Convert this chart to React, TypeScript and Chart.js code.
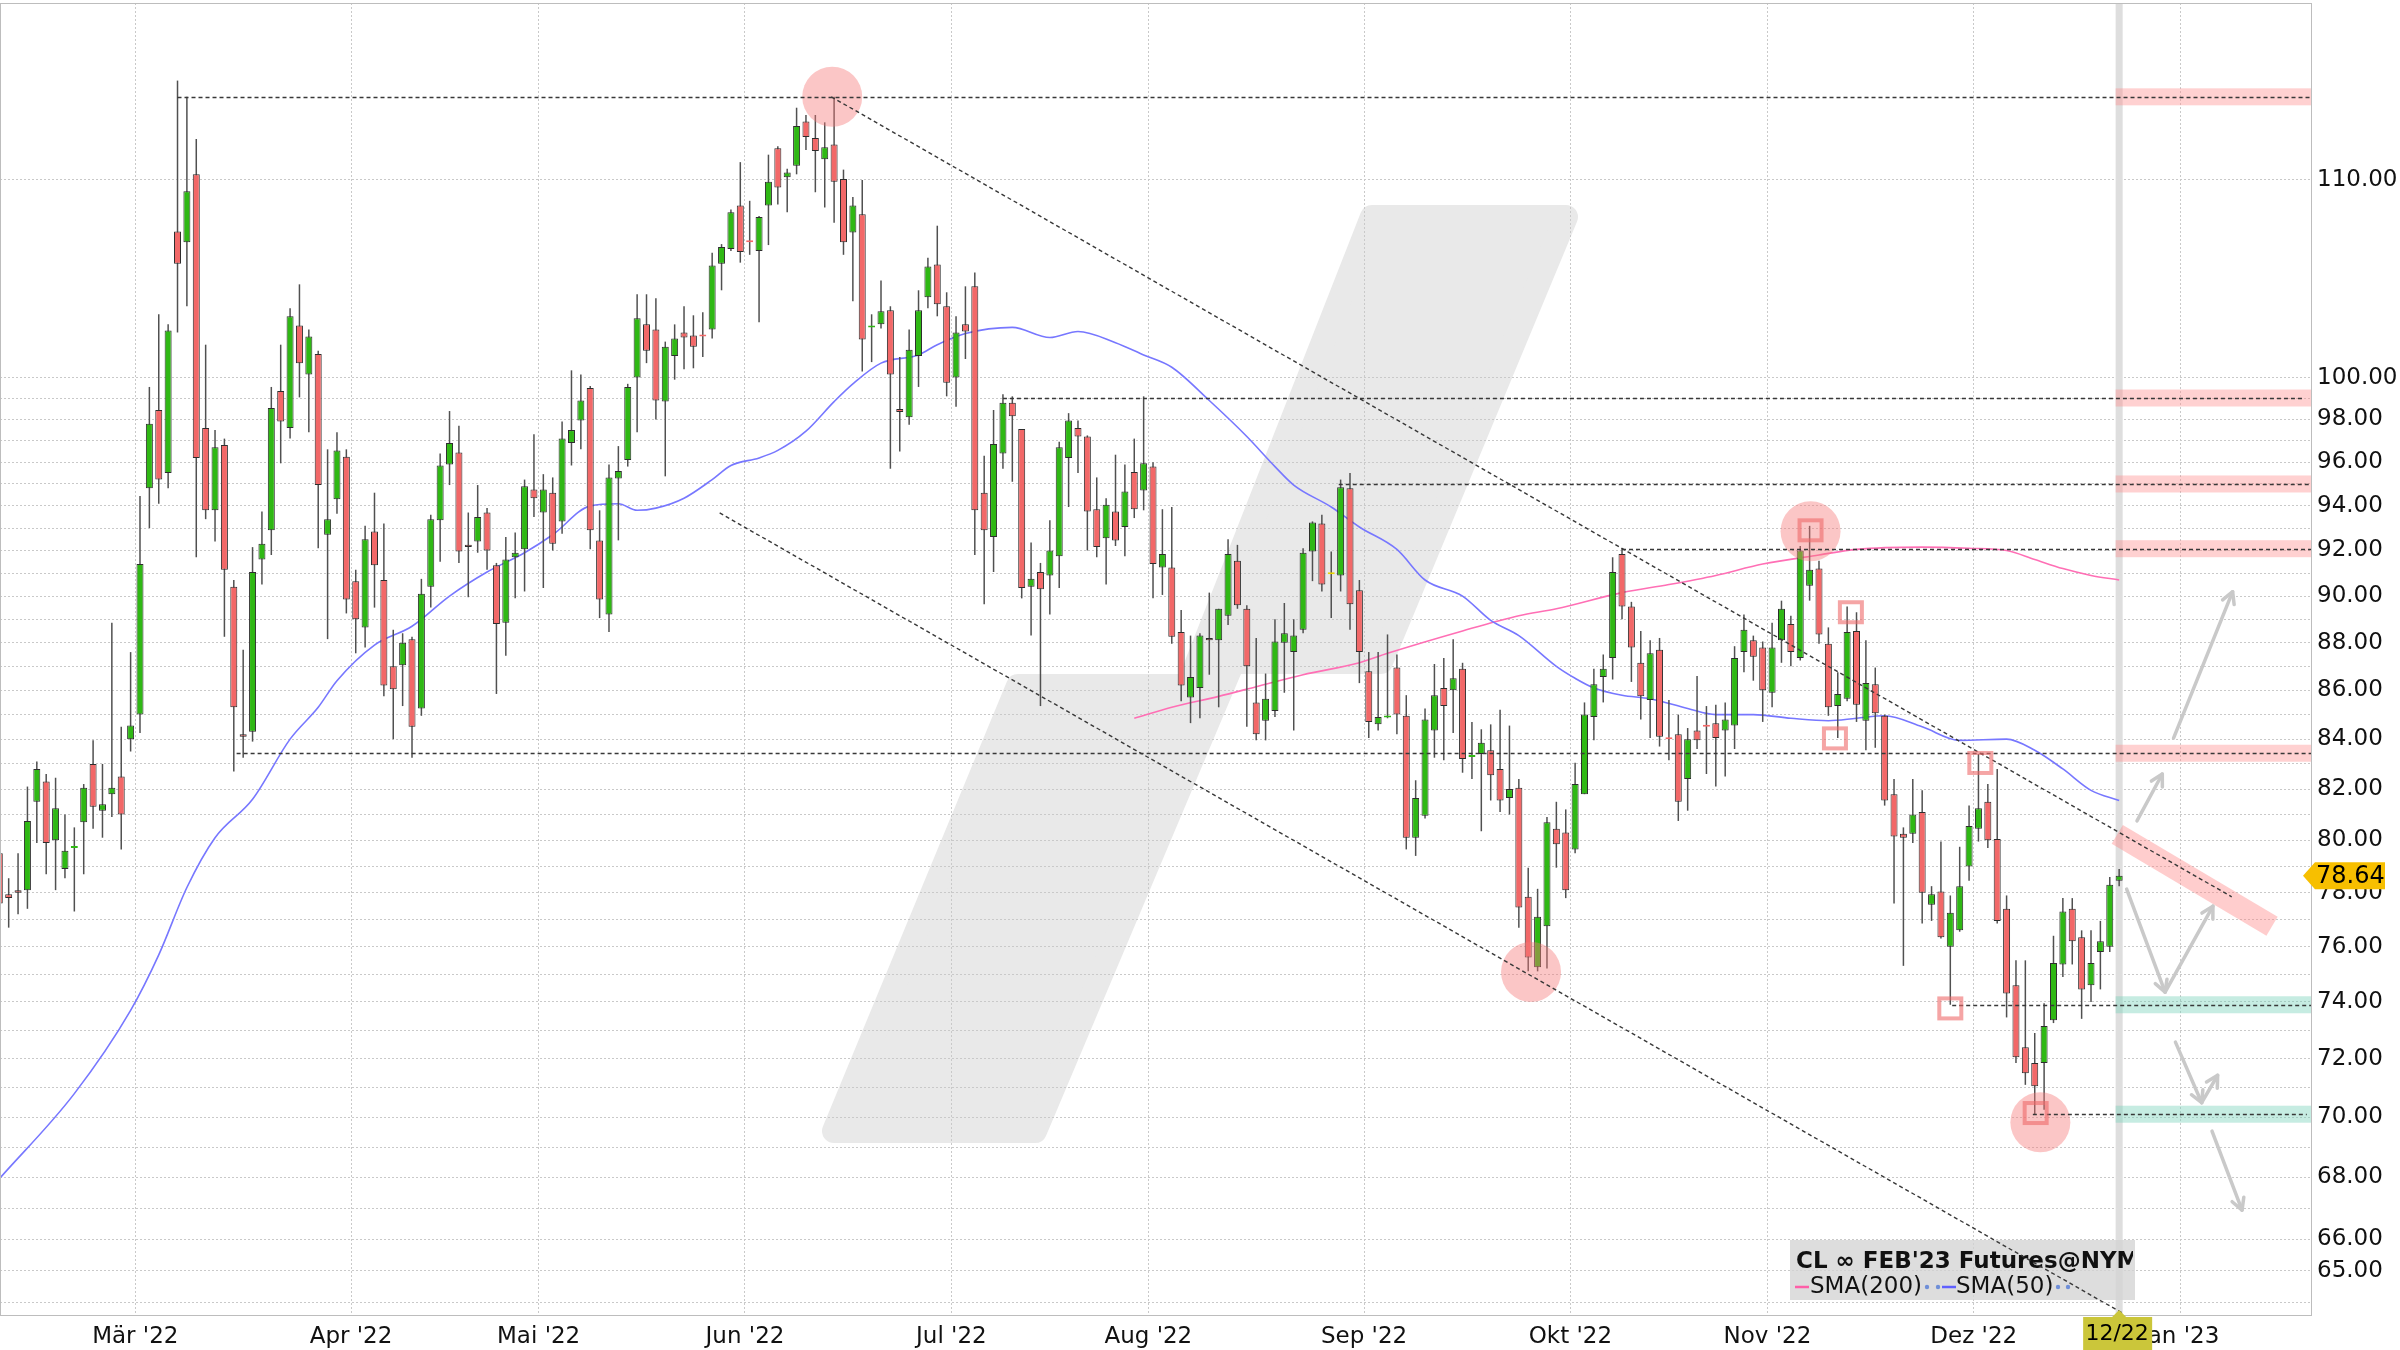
import React, { useEffect, useRef } from "react";
import { Chart, registerables } from "chart.js";

Chart.register(...registerables);

// ---------- data (trading-day index 0 = 1 Mar 2022) ----------
const FIRST_INDEX = -15;
const OPEN = [
  79.5, 77.95, 78.1, 78.1, 81.5, 82.3, 80.0, 78.9, 79.7, 80.7, 83.0, 81.15, 81.8, 82.5, 84.0,
  85.0, 94.8, 98.45, 95.5, 107.3, 106.75, 110.3, 97.6, 93.8, 96.8, 90.4, 84.2, 84.3, 91.6, 92.9,
  99.35, 97.6, 102.55, 100.15, 101.15, 92.7, 94.3, 96.25, 90.65, 88.65, 92.85, 90.7, 87.0, 87.05, 88.15,
  85.25, 90.4, 93.35, 95.9, 96.45, 92.25, 92.4, 93.7, 91.35, 88.85, 91.7, 92.05, 94.75, 93.7, 94.6,
  93.3, 96.9, 97.95, 99.5, 92.45, 89.2, 95.25, 96.1, 100.0, 102.6, 102.35, 98.85, 101.05, 102.2, 102.05,
  102.05, 102.35, 105.65, 106.4, 108.65, 106.8, 106.3, 108.65, 111.7, 110.15, 110.75, 113.15, 112.25, 111.1, 111.9,
  110.05, 107.25, 108.2, 102.45, 102.6, 103.3, 98.5, 98.1, 101.05, 103.95, 105.6, 103.5, 100.0, 102.6, 104.5,
  94.6, 92.6, 96.4, 98.8, 97.55, 90.4, 91.05, 90.9, 91.75, 96.2, 97.6, 97.2, 93.85, 92.55, 93.75,
  93.05, 95.55, 94.7, 95.8, 91.25, 91.25, 88.45, 85.7, 86.1, 88.2, 88.1, 89.15, 91.55, 89.45, 85.5,
  84.75, 85.15, 88.0, 87.6, 88.55, 91.95, 93.2, 90.95, 90.9, 94.8, 90.25, 86.8, 84.6, 84.88, 86.95,
  84.95, 80.1, 80.95, 84.35, 86.1, 86.0, 86.9, 83.28, 83.4, 83.55, 82.8, 81.65, 82.05, 77.85, 75.25,
  76.75, 80.45, 80.3, 79.65, 81.8, 84.9, 86.55, 87.35, 91.85, 89.55, 87.15, 85.6, 87.7, 84.05, 84.2,
  82.4, 84.35, 84.52, 84.65, 84.35, 84.55, 87.6, 88.1, 87.8, 85.9, 88.1, 88.8, 87.35, 90.45, 91.2,
  87.95, 85.35, 85.65, 88.5, 84.75, 86.25, 84.95, 81.8, 80.25, 80.25, 81.1, 77.55, 78.05, 76.0, 76.6,
  79.0, 80.45, 81.5, 80.05, 77.4, 74.6, 72.4, 71.85, 71.85, 73.35, 75.35, 77.4, 76.35, 74.6, 75.8,
  76.0, 78.45,
];
const HIGH = [
  80.2, 78.55, 79.5, 82.1, 83.1, 82.6, 82.45, 81.0, 80.5, 82.2, 83.95, 83.0, 88.85, 84.5, 87.6,
  94.45, 99.55, 103.1, 102.6, 115.4, 114.5, 112.2, 101.6, 97.5, 97.1, 90.7, 87.7, 92.15, 93.75, 99.55,
  101.6, 103.4, 104.6, 102.35, 101.3, 96.6, 97.4, 96.6, 91.15, 93.1, 94.6, 93.2, 88.55, 88.4, 88.25,
  90.75, 93.6, 96.4, 98.4, 97.7, 93.7, 94.95, 93.9, 91.45, 92.6, 92.8, 95.2, 97.3, 95.45, 95.3,
  97.9, 100.35, 100.15, 99.6, 93.8, 95.9, 96.75, 99.7, 104.1, 104.1, 103.9, 101.75, 102.6, 103.5, 103.05,
  103.2, 106.2, 106.65, 108.45, 110.95, 108.9, 108.1, 111.35, 111.8, 110.6, 113.9, 113.5, 113.5, 113.1, 114.5,
  110.55, 109.1, 110.0, 103.1, 104.8, 103.5, 101.0, 102.35, 104.3, 105.95, 107.6, 104.2, 103.0, 104.5, 105.2,
  96.3, 98.45, 99.2, 99.1, 97.55, 92.35, 91.45, 93.35, 96.95, 98.3, 97.95, 97.25, 95.3, 94.35, 96.35,
  95.9, 97.1, 99.1, 96.0, 93.85, 93.95, 89.4, 88.3, 88.4, 90.15, 89.45, 92.5, 92.25, 89.6, 88.2,
  86.7, 89.0, 89.7, 89.0, 92.1, 93.3, 93.6, 91.95, 95.2, 95.5, 90.7, 87.6, 87.6, 88.35, 87.5,
  85.8, 82.35, 85.25, 87.1, 87.35, 88.15, 87.15, 84.7, 84.4, 84.6, 85.2, 84.55, 82.4, 78.95, 78.15,
  80.9, 81.5, 81.2, 83.05, 85.5, 86.9, 87.5, 91.7, 92.1, 89.75, 88.5, 88.1, 88.2, 85.6, 85.0,
  84.45, 86.6, 85.35, 85.4, 85.5, 87.85, 89.2, 88.3, 88.05, 88.85, 89.8, 89.15, 92.2, 93.1, 91.55,
  88.65, 86.75, 89.55, 89.3, 88.1, 86.95, 85.0, 82.4, 80.5, 82.4, 81.95, 78.25, 79.95, 77.9, 79.75,
  81.35, 83.4, 82.2, 82.8, 77.9, 75.5, 75.5, 72.9, 73.95, 76.4, 77.8, 77.8, 76.6, 76.6, 76.95,
  78.6, 78.9,
];
const LOW = [
  77.4, 76.7, 77.2, 77.4, 79.9, 78.7, 78.1, 78.55, 77.3, 78.7, 80.45, 80.1, 80.9, 79.65, 83.5,
  84.25, 93.0, 94.1, 94.8, 102.2, 103.5, 91.7, 93.4, 92.4, 88.25, 82.7, 83.25, 83.9, 90.5, 91.8,
  95.95, 97.1, 99.05, 97.4, 92.1, 88.15, 93.65, 89.25, 87.55, 87.8, 89.5, 85.75, 84.0, 85.35, 83.25,
  84.95, 89.5, 91.5, 94.95, 91.45, 89.95, 91.9, 91.15, 85.85, 87.45, 89.9, 90.2, 93.5, 90.35, 92.0,
  92.75, 95.85, 96.6, 92.05, 89.05, 88.45, 92.45, 95.8, 97.4, 100.7, 98.0, 95.35, 99.9, 100.4, 100.45,
  101.0, 101.9, 104.3, 106.3, 105.7, 106.1, 102.7, 106.6, 108.7, 108.3, 110.3, 111.6, 109.35, 108.55, 107.75,
  106.1, 103.75, 100.3, 100.75, 102.4, 95.7, 96.5, 97.75, 99.55, 103.4, 103.0, 99.1, 98.6, 100.9, 91.8,
  89.65, 91.05, 95.7, 95.1, 89.9, 88.3, 85.35, 89.2, 90.35, 93.95, 95.5, 92.0, 91.7, 90.5, 92.2,
  91.75, 93.45, 93.8, 89.9, 90.05, 87.95, 85.55, 84.65, 84.85, 86.65, 85.3, 88.75, 89.45, 84.5, 83.95,
  83.95, 84.9, 85.9, 84.35, 88.4, 90.65, 90.2, 89.05, 90.2, 88.55, 86.3, 84.05, 84.35, 84.85, 84.2,
  79.65, 79.4, 80.85, 83.25, 83.15, 84.25, 82.65, 82.4, 80.35, 81.55, 81.1, 81.0, 76.7, 75.1, 75.1,
  75.2, 78.95, 77.8, 79.5, 81.8, 83.95, 85.5, 86.45, 89.0, 86.35, 84.8, 84.05, 83.7, 83.15, 80.75,
  81.15, 83.6, 82.6, 82.1, 82.5, 83.6, 86.75, 86.4, 84.7, 85.3, 87.15, 87.0, 87.25, 89.8, 87.95,
  84.95, 84.05, 85.55, 84.7, 83.55, 83.65, 81.35, 77.6, 75.3, 79.9, 76.85, 76.95, 76.3, 73.9, 76.55,
  78.45, 79.95, 79.7, 76.85, 73.45, 71.85, 71.1, 70.1, 70.25, 73.25, 74.9, 75.35, 73.4, 74.0, 74.45,
  75.8, 78.25,
];
const CLOSE = [
  77.6, 77.8, 78.0, 80.75, 82.8, 79.9, 81.25, 79.6, 79.75, 82.05, 81.3, 81.4, 82.05, 81.0, 84.55,
  91.4, 97.8, 95.2, 102.3, 105.65, 109.4, 96.2, 93.8, 96.7, 91.15, 85.3, 84.1, 91.05, 92.3, 98.55,
  97.9, 103.0, 100.7, 102.0, 94.95, 93.4, 96.55, 89.85, 89.0, 92.5, 91.35, 86.2, 86.05, 88.0, 84.5,
  90.1, 93.4, 95.85, 96.9, 91.95, 92.15, 93.5, 92.0, 88.8, 91.6, 91.9, 94.9, 94.35, 94.75, 92.3,
  97.1, 97.5, 98.9, 92.9, 89.85, 95.3, 95.6, 99.55, 102.9, 101.3, 98.9, 101.5, 101.9, 101.95, 101.5,
  102.0, 105.55, 106.5, 108.3, 106.25, 106.75, 108.05, 109.9, 109.6, 110.4, 112.9, 112.3, 111.55, 111.75, 109.9,
  106.75, 108.65, 101.85, 102.5, 103.25, 100.15, 98.35, 101.35, 103.3, 105.5, 103.6, 99.75, 102.2, 102.25, 93.8,
  92.9, 96.85, 98.8, 98.15, 90.35, 90.75, 90.3, 92.0, 96.7, 97.95, 97.2, 93.75, 92.15, 94.05, 92.45,
  94.65, 93.85, 95.95, 91.4, 91.85, 88.25, 86.2, 86.55, 88.3, 88.1, 89.45, 91.85, 89.6, 87.0, 84.2,
  85.65, 88.05, 88.4, 88.3, 91.9, 93.25, 90.5, 90.95, 94.85, 89.65, 87.6, 84.7, 84.9, 84.9, 85.0,
  80.1, 81.65, 84.8, 85.8, 85.35, 86.5, 83.2, 83.3, 83.85, 82.55, 81.55, 82.0, 77.45, 75.6, 77.1,
  80.7, 79.85, 78.1, 82.2, 85.0, 86.25, 86.9, 91.05, 89.55, 87.8, 85.75, 87.55, 84.1, 84.0, 81.5,
  84.0, 83.95, 84.5, 84.05, 84.8, 87.35, 88.55, 87.4, 86.0, 87.8, 89.45, 87.6, 92.0, 91.15, 88.35,
  85.3, 85.85, 88.45, 85.4, 86.3, 85.05, 81.55, 80.15, 80.1, 81.0, 78.0, 77.95, 76.35, 77.25, 78.25,
  80.55, 81.25, 80.0, 76.95, 74.3, 72.05, 71.5, 71.05, 73.15, 75.4, 77.3, 76.2, 74.45, 75.4, 76.2,
  78.3, 78.64,
];

// moving averages at these trading-day indices
const SMA50_INDEX = [
  -15, -7, -1, 2, 5, 8, 12, 16, 19, 21, 25, 29, 33, 37, 41, 44, 48, 51, 53, 55, 58, 61, 63, 66,
  68, 71, 74, 76, 79, 83, 85, 88, 93, 97, 100, 104, 107, 110, 114, 118, 121, 123, 127, 130, 134,
  137, 141, 144, 147, 151, 153, 155, 158, 161, 165, 168, 172, 176, 180, 183, 186, 190, 194, 199,
  202, 205, 208, 211,
];
const SMA50_VALUE = [
  67.95, 70.8, 73.7, 75.7, 78.2, 80.1, 81.6, 84.0, 85.3, 86.4, 87.9, 88.7, 90.0, 91.05, 91.9, 92.7,
  94.0, 94.1, 93.8, 93.9, 94.35, 95.2, 95.85, 96.2, 96.55, 97.45, 98.85, 99.7, 100.7, 101.1, 101.6,
  102.15, 102.45, 101.95, 102.25, 101.7, 101.1, 100.5, 98.9, 97.2, 95.8, 94.95, 93.95, 93.05, 92.05,
  90.7, 90.0, 88.95, 88.3, 87.0, 86.5, 86.1, 85.8, 85.65, 85.25, 85.0, 85.0, 84.85, 84.75, 84.85,
  84.95, 84.5, 83.95, 84.0, 83.55, 82.8, 81.95, 81.55,
];
const SMA200_INDEX = [106, 110, 115, 119, 124, 130, 133, 141, 147, 151, 158, 163, 168, 173, 179, 183, 190, 195, 199, 202, 205, 208, 211];
const SMA200_VALUE = [84.85, 85.3, 85.75, 86.15, 86.65, 87.15, 87.55, 88.5, 89.15, 89.45, 90.15, 90.5, 90.9, 91.4, 91.8, 92.05, 92.15, 92.1, 92.0, 91.6, 91.2, 90.9, 90.7];

// axis ticks
const MONTH_TICKS = [-0.5, 22.5, 42.5, 64.5, 86.5, 107.5, 130.5, 152.5, 173.5, 195.5, 217.5];
const MONTH_LABELS = ["Mär '22", "Apr '22", "Mai '22", "Jun '22", "Jul '22", "Aug '22", "Sep '22", "Okt '22", "Nov '22", "Dez '22", "Jan '23"];
const Y_GRID = [64, 65, 66, 67, 68, 69, 70, 71, 72, 73, 74, 75, 76, 77, 78, 79, 80, 81, 82, 83, 84, 85, 86, 87, 88, 89, 90, 91, 92, 93, 94, 95, 96, 97, 98, 99, 100, 110];
const Y_LABELED = [65, 66, 68, 70, 72, 74, 76, 78, 80, 82, 84, 86, 88, 90, 92, 94, 96, 98, 100, 110];
const CURRENT_DATE_LABEL = "12/22";
const TITLE = "CL ∞ FEB'23 Futures@NYMEX";

// analysis drawings (in trading-day index / price)
const HLINE_PRICE = [114.5, 83.43, 99.02, 95.0, 92.08, 73.9, 70.1];
const HLINE_FROM = [4, 10.3, 92, 127.8, 158, 193.2, 201.8];
const HLINE_TO = [231.6, 231.6, 230.6, 231.6, 231.6, 231.6, 231.0];
const TREND_X1 = [73.7, 61.8];
const TREND_Y1 = [114.5, 93.68];
const TREND_X2 = [223.0, 211.4];
const TREND_Y2 = [77.85, 63.68];
const RESISTANCE_LEVELS = [114.5, 99.02, 95.0, 92.08, 83.43];
const SUPPORT_LEVELS = [73.9, 70.1];
const CIRCLE_X = [73.8, 148.3, 178.1, 202.6];
const CIRCLE_Y = [114.5, 75.08, 92.86, 69.83];
const SQUARE_X = [178.1, 182.4, 180.7, 196.2, 193.0, 202.1];
const SQUARE_Y = [92.9, 89.3, 84.03, 83.04, 73.77, 70.14];
const ARROW_X1 = [216.8, 212.9, 211.8, 215.9, 217.0, 219.8, 220.9];
const ARROW_Y1 = [84.04, 80.75, 78.14, 74.35, 72.58, 70.49, 69.53];
const ARROW_X2 = [223.1, 215.6, 215.9, 221.0, 219.8, 221.5, 224.1];
const ARROW_Y2 = [90.19, 82.6, 74.35, 77.5, 70.49, 71.43, 66.93];
const PROJ_X = [210.8, 227.3];
const PROJ_Y = [80.23, 76.75];

const X_MIN = -14.925;
const X_MAX = 231.56;
const Y_MIN = 63.6;
const Y_MAX = 119.8;

// watermark outline (px, relative to chart area; inset, stroked round)
const WATERMARK = [
  [1372, 217], [1566, 217], [1381, 662], [1233, 662], [1035, 1131], [834, 1131], [1018, 686], [1188, 686],
];

// ---------- derived ----------
const N = OPEN.length;
const IDX = OPEN.map((_, k) => FIRST_INDEX + k);
const GREEN = "#2fb814";
const RED = "#f26868";
const YELLOW = "#e6d200";
const bodyColor = OPEN.map((o, k) => (CLOSE[k] > o ? GREEN : CLOSE[k] < o ? RED : YELLOW));
const bodyBorder = OPEN.map((o, k) => (Math.abs(CLOSE[k] - o) < 0.06 ? bodyColor[k] : "#2d2d2d"));

Chart.defaults.font.family = "'DejaVu Sans', Verdana, sans-serif";

function arrow(ctx: CanvasRenderingContext2D, x1: number, y1: number, x2: number, y2: number) {
  ctx.beginPath();
  ctx.moveTo(x1, y1);
  ctx.lineTo(x2, y2);
  ctx.stroke();
  const a = Math.atan2(y2 - y1, x2 - x1);
  const L = 13;
  const w = 0.5;
  ctx.beginPath();
  ctx.moveTo(x2 - L * Math.cos(a - w), y2 - L * Math.sin(a - w));
  ctx.lineTo(x2, y2);
  ctx.lineTo(x2 - L * Math.cos(a + w), y2 - L * Math.sin(a + w));
  ctx.stroke();
}

const decorPlugin = {
  id: "decor",
  beforeDraw(chart: any) {
    const { ctx, chartArea: ca, width, height } = chart;
    ctx.save();
    ctx.fillStyle = "#ffffff";
    ctx.fillRect(0, 0, width, height);
    ctx.fillStyle = "#e9e9e9";
    ctx.strokeStyle = "#e9e9e9";
    ctx.lineWidth = 24;
    ctx.lineJoin = "round";
    ctx.beginPath();
    WATERMARK.forEach(([x, y], k) => {
      const px = ca.left + x;
      const py = ca.top + y - 3;
      if (k === 0) ctx.moveTo(px, py);
      else ctx.lineTo(px, py);
    });
    ctx.closePath();
    ctx.fill();
    ctx.stroke();
    ctx.restore();
  },
  beforeDatasetsDraw(chart: any) {
    const { ctx, chartArea: ca } = chart;
    const xs = chart.scales.x;
    const x = xs.getPixelForValue(IDX[N - 1]);
    ctx.save();
    ctx.fillStyle = "#dedede";
    ctx.fillRect(x - 3.5, ca.top, 7, ca.bottom - ca.top);
    ctx.restore();
  },
  afterDatasetsDraw(chart: any) {
    const { ctx, chartArea: ca } = chart;
    const xs = chart.scales.x;
    const ys = chart.scales.y;
    const X = (v: number) => xs.getPixelForValue(v);
    const Y = (v: number) => ys.getPixelForValue(v);
    const bandStart = X(IDX[N - 1]) - 3.5;

    ctx.save();
    ctx.beginPath();
    ctx.rect(ca.left, ca.top, ca.right - ca.left, ca.bottom - ca.top);
    ctx.clip();

    // level bands
    ctx.fillStyle = "rgba(255,140,140,0.4)";
    RESISTANCE_LEVELS.forEach((p) => ctx.fillRect(bandStart, Y(p) - 8.5, ca.right - bandStart, 17));
    ctx.fillStyle = "rgba(120,210,185,0.42)";
    SUPPORT_LEVELS.forEach((p) => ctx.fillRect(bandStart, Y(p) - 8.5, ca.right - bandStart, 17));

    // projected channel band
    ctx.strokeStyle = "rgba(255,130,130,0.4)";
    ctx.lineWidth = 22;
    ctx.lineCap = "butt";
    ctx.beginPath();
    ctx.moveTo(X(PROJ_X[0]), Y(PROJ_Y[0]));
    ctx.lineTo(X(PROJ_X[1]), Y(PROJ_Y[1]));
    ctx.stroke();

    // circles
    ctx.fillStyle = "rgba(245,120,120,0.42)";
    CIRCLE_X.forEach((cx, k) => {
      ctx.beginPath();
      ctx.arc(X(cx), Y(CIRCLE_Y[k]), 30, 0, Math.PI * 2);
      ctx.fill();
    });

    // legend box
    const lx = ca.left + 1790;
    const ly = 1240;
    ctx.fillStyle = "rgba(212,212,212,0.78)";
    ctx.fillRect(lx, ly, 345, 60);
    ctx.save();
    ctx.beginPath();
    ctx.rect(lx, ly, 343, 60);
    ctx.clip();
    ctx.fillStyle = "#111";
    ctx.textBaseline = "middle";
    ctx.textAlign = "left";
    ctx.font = "bold 23px 'DejaVu Sans', sans-serif";
    ctx.fillText(TITLE, lx + 6, ly + 22);
    ctx.restore();
    ctx.font = "23px 'DejaVu Sans', sans-serif";
    ctx.fillStyle = "#111";
    ctx.textBaseline = "middle";
    ctx.lineWidth = 2.5;
    ctx.strokeStyle = "#ff5fa8";
    ctx.beginPath();
    ctx.moveTo(lx + 5, ly + 47);
    ctx.lineTo(lx + 19, ly + 47);
    ctx.stroke();
    ctx.fillText("SMA(200)", lx + 20, ly + 47);
    ctx.fillStyle = "#6f8fd8";
    [lx + 137, lx + 148].forEach((dx) => {
      ctx.beginPath();
      ctx.arc(dx, ly + 47, 2.2, 0, Math.PI * 2);
      ctx.fill();
    });
    ctx.strokeStyle = "#6060ff";
    ctx.beginPath();
    ctx.moveTo(lx + 152, ly + 47);
    ctx.lineTo(lx + 166, ly + 47);
    ctx.stroke();
    ctx.fillStyle = "#111";
    ctx.fillText("SMA(50)", lx + 166, ly + 47);
    ctx.fillStyle = "#6f8fd8";
    [lx + 268, lx + 278].forEach((dx) => {
      ctx.beginPath();
      ctx.arc(dx, ly + 47, 2.2, 0, Math.PI * 2);
      ctx.fill();
    });

    // dashed lines
    ctx.strokeStyle = "#383838";
    ctx.lineWidth = 1.4;
    ctx.setLineDash([4, 3]);
    HLINE_PRICE.forEach((p, k) => {
      const y = Math.round(Y(p)) + 0.5;
      ctx.beginPath();
      ctx.moveTo(X(HLINE_FROM[k]), y);
      ctx.lineTo(X(HLINE_TO[k]), y);
      ctx.stroke();
    });
    TREND_X1.forEach((x1, k) => {
      ctx.beginPath();
      ctx.moveTo(X(x1), Y(TREND_Y1[k]));
      ctx.lineTo(X(TREND_X2[k]), Y(TREND_Y2[k]));
      ctx.stroke();
    });
    ctx.setLineDash([]);

    // squares
    ctx.strokeStyle = "rgba(238,105,105,0.6)";
    ctx.lineWidth = 4;
    SQUARE_X.forEach((sx, k) => {
      ctx.strokeRect(X(sx) - 11, Y(SQUARE_Y[k]) - 10, 22, 20);
    });

    // arrows
    ctx.strokeStyle = "#c9c9c9";
    ctx.lineWidth = 3.5;
    ctx.lineCap = "round";
    ctx.lineJoin = "round";
    ARROW_X1.forEach((x1, k) => {
      arrow(ctx, X(x1), Y(ARROW_Y1[k]), X(ARROW_X2[k]), Y(ARROW_Y2[k]));
    });
    ctx.restore();

    // frame
    ctx.save();
    ctx.strokeStyle = "#bdbdbd";
    ctx.lineWidth = 1;
    ctx.strokeRect(ca.left + 0.5, ca.top + 0.5, ca.right - ca.left - 1, ca.bottom - ca.top - 1);

    // last price label
    const last = CLOSE[N - 1];
    const py = Y(last);
    ctx.fillStyle = "#f7bf00";
    ctx.beginPath();
    ctx.moveTo(ca.right - 9, py);
    ctx.lineTo(ca.right + 3, py - 13.5);
    ctx.lineTo(ca.right + 73, py - 13.5);
    ctx.lineTo(ca.right + 73, py + 13.5);
    ctx.lineTo(ca.right + 3, py + 13.5);
    ctx.closePath();
    ctx.fill();
    ctx.fillStyle = "#000";
    ctx.font = "24px 'DejaVu Sans', sans-serif";
    ctx.textAlign = "left";
    ctx.textBaseline = "middle";
    ctx.fillText(last.toFixed(2), ca.right + 4, py + 1);

    // current date label
    const dx = X(IDX[N - 1]);
    ctx.fillStyle = "#cbc63a";
    ctx.fillRect(dx - 36, ca.bottom + 1, 69, 34);
    ctx.beginPath();
    ctx.moveTo(dx - 7, ca.bottom + 1);
    ctx.lineTo(dx, ca.bottom - 6);
    ctx.lineTo(dx + 7, ca.bottom + 1);
    ctx.closePath();
    ctx.fill();
    ctx.fillStyle = "#000";
    ctx.font = "22px 'DejaVu Sans', sans-serif";
    ctx.textAlign = "center";
    ctx.fillText(CURRENT_DATE_LABEL, dx - 2, ca.bottom + 18);
    ctx.restore();
  },
};

export default function App() {
  const ref = useRef<HTMLCanvasElement>(null);
  useEffect(() => {
    const candles = IDX.map((i, k) => ({ x: i, y: [OPEN[k], CLOSE[k]] }));
    const wicks = IDX.map((i, k) => ({ x: i, y: [LOW[k], HIGH[k]] }));
    const sma50 = SMA50_INDEX.map((i, k) => ({ x: i, y: SMA50_VALUE[k] }));
    const sma200 = SMA200_INDEX.map((i, k) => ({ x: i, y: SMA200_VALUE[k] }));
    const chart = new Chart(ref.current as HTMLCanvasElement, {
      type: "bar",
      data: {
        datasets: [
          {
            type: "bar",
            label: "body",
            data: candles as any,
            backgroundColor: bodyColor,
            borderColor: bodyBorder,
            borderWidth: 1,
            borderSkipped: false,
            barThickness: 7,
            minBarLength: 2,
            grouped: false,
            inflateAmount: 0,
            order: 1,
          } as any,
          {
            type: "bar",
            label: "wick",
            data: wicks as any,
            backgroundColor: "#505050",
            borderWidth: 0,
            barThickness: 1.5,
            grouped: false,
            inflateAmount: 0,
            order: 2,
          } as any,
          {
            type: "line",
            label: "SMA(50)",
            data: sma50 as any,
            borderColor: "#7777ff",
            borderWidth: 1.6,
            pointRadius: 0,
            cubicInterpolationMode: "monotone",
            order: 3,
          } as any,
          {
            type: "line",
            label: "SMA(200)",
            data: sma200 as any,
            borderColor: "#ff6fb5",
            borderWidth: 1.6,
            pointRadius: 0,
            cubicInterpolationMode: "monotone",
            order: 3,
          } as any,
        ],
      },
      options: {
        responsive: false,
        animation: false,
        devicePixelRatio: 1,
        events: [],
        layout: { padding: { top: 3, left: 0, right: 0, bottom: 0 } },
        plugins: { legend: { display: false }, tooltip: { enabled: false } },
        scales: {
          x: {
            type: "linear",
            position: "bottom",
            min: X_MIN,
            max: X_MAX,
            bounds: "data",
            offset: false,
            grid: { offset: false, color: "#c9c9c9", lineWidth: 1, drawTicks: false },
            border: { display: false, dash: [2, 2] },
            ticks: {
              autoSkip: false,
              maxRotation: 0,
              padding: 7,
              color: "#111",
              font: { size: 23 },
              callback: (_v: any, index: number) => MONTH_LABELS[index] ?? "",
            },
            afterBuildTicks: (scale: any) => {
              scale.ticks = MONTH_TICKS.map((v) => ({ value: v }));
            },
            afterFit: (scale: any) => {
              scale.height = 34;
              scale.paddingLeft = 0;
              scale.paddingRight = 0;
            },
          },
          y: {
            type: "logarithmic",
            position: "right",
            min: Y_MIN,
            max: Y_MAX,
            bounds: "data",
            beginAtZero: false,
            grid: { color: "#c9c9c9", lineWidth: 1, drawTicks: false },
            border: { display: false, dash: [2, 2] },
            ticks: {
              autoSkip: false,
              padding: 5,
              color: "#111",
              font: { size: 23 },
              callback: (v: any) => (Y_LABELED.includes(Number(v)) ? Number(v).toFixed(2) : ""),
            },
            afterBuildTicks: (scale: any) => {
              scale.ticks = Y_GRID.map((v) => ({ value: v }));
            },
            afterFit: (scale: any) => {
              scale.width = 88;
              scale.paddingTop = 0;
              scale.paddingBottom = 0;
            },
          },
        },
      } as any,
      plugins: [decorPlugin],
    });
    return () => chart.destroy();
  }, []);
  return (
    <div style={{ position: "fixed", left: 0, top: 0, width: 2400, height: 1350, background: "#fff" }}>
      <canvas ref={ref} width={2400} height={1350} style={{ display: "block", width: 2400, height: 1350 }} />
    </div>
  );
}
